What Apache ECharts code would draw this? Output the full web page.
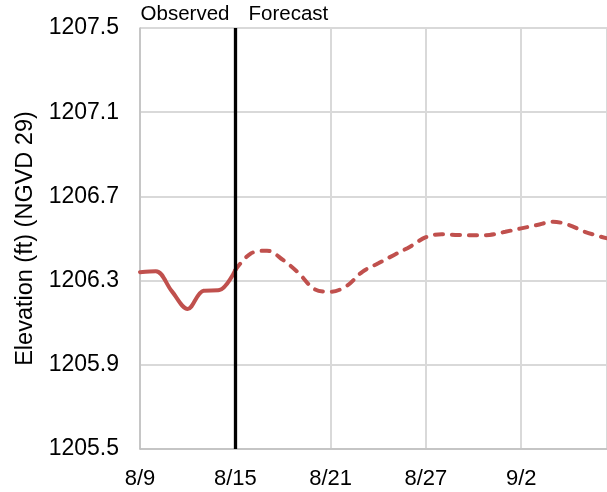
<!DOCTYPE html>
<html>
<head>
<meta charset="utf-8">
<script src="https://cdn.jsdelivr.net/npm/echarts@6/dist/echarts.min.js"></script>
<style>html,body{margin:0;padding:0;background:#fff;}#c{width:607px;height:492px;}</style>
</head>
<body>
<div id="c"></div>
<script>
// Day index 0 = 8/9
const dayLabels = {0:'8/9', 6:'8/15', 12:'8/21', 18:'8/27', 24:'9/2'};
const observedDays = [0,1,2,3,4,5,6];
const observedValues = [1206.34,1206.345,1206.25,1206.165,1206.252,1206.255,1206.35];
const forecastDays = [6,7,8,9,10,11,12,13,14,15,16,17,18,19,20,21,22,23,24,25,26,27,28,29,30];
const forecastValues = [1206.35,1206.43,1206.442,1206.398,1206.335,1206.259,1206.247,1206.274,1206.342,1206.382,1206.422,1206.461,1206.506,1206.52,1206.517,1206.515,1206.517,1206.532,1206.548,1206.564,1206.58,1206.564,1206.532,1206.509,1206.49];
const forecastStartDay = 6;

const chart = echarts.init(document.getElementById('c'));
const font = 'Liberation Sans, Arial, sans-serif';
chart.setOption({
  animation: false,
  grid: {left: 140, right: 0, top: 28, bottom: 43},
  xAxis: {
    type: 'value', min: 0, max: 29.4, interval: 6,
    axisLine: {show: true, lineStyle: {color: '#bfbfbf', width: 1.5}},
    axisTick: {show: false},
    splitLine: {show: true, lineStyle: {color: '#d9d9d9', width: 2}},
    axisLabel: {showMaxLabel: false, margin: 19, color: '#000', fontSize: 22, fontFamily: font,
      formatter: v => dayLabels[v] !== undefined ? dayLabels[v] : ''}
  },
  yAxis: {
    type: 'value', min: 1205.5, max: 1207.5, interval: 0.4,
    name: 'Elevation (ft) (NGVD 29)', nameLocation: 'middle', nameGap: 95,
    nameTextStyle: {color: '#000', fontSize: 23.5, fontFamily: font},
    axisLine: {show: true, lineStyle: {color: '#bfbfbf', width: 1.5}},
    axisTick: {show: false},
    splitLine: {show: true, lineStyle: {color: '#d9d9d9', width: 2}},
    axisLabel: {margin: 21, color: '#000', fontSize: 23, fontFamily: font,
      formatter: v => v.toFixed(1)}
  },
  series: [
    {
      type: 'line', smooth: 0.35, symbol: 'none',
      data: observedDays.map((d, i) => [d, observedValues[i]]),
      lineStyle: {color: '#C0504D', width: 4, cap: 'round'},
      z: 3
    },
    {
      type: 'line', smooth: 0.35, symbol: 'none',
      data: forecastDays.map((d, i) => [d, forecastValues[i]]),
      lineStyle: {color: '#C0504D', width: 4, type: [8, 9], cap: 'round'},
      z: 3,
      markLine: {
        silent: true, symbol: 'none', label: {show: false},
        lineStyle: {color: '#000', width: 3.3, type: 'solid'},
        data: [{xAxis: forecastStartDay}]
      }
    }
  ],
  graphic: [
    {type: 'text', right: 607 - 229.5, top: 4, style: {text: 'Observed', fontSize: 20.5, fontFamily: font, fill: '#000'}},
    {type: 'text', left: 248.5, top: 4, style: {text: 'Forecast', fontSize: 20.5, fontFamily: font, fill: '#000'}}
  ]
});
</script>
</body>
</html>
